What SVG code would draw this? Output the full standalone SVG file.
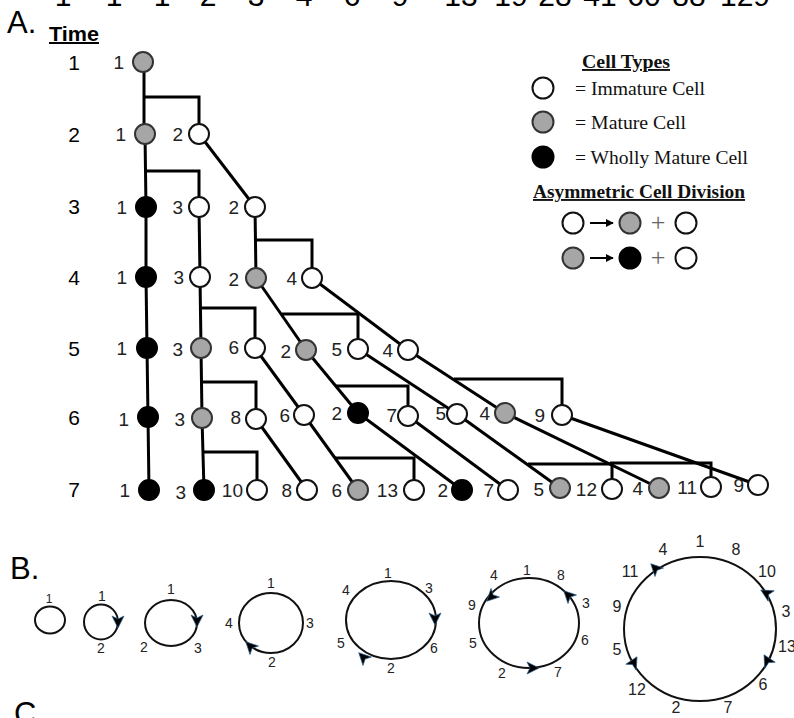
<svg xmlns="http://www.w3.org/2000/svg" width="794" height="718" viewBox="0 0 794 718">
<defs>
<style>
.lbl{font-family:"Liberation Sans",Arial,sans-serif;font-size:19px;fill:#222;text-anchor:end}
.time{font-family:"Liberation Sans",Arial,sans-serif;font-size:21px;fill:#000;text-anchor:middle}
.top{font-family:"Liberation Sans",Arial,sans-serif;font-size:30px;fill:#000;text-anchor:middle}
.big{font-family:"Liberation Sans",Arial,sans-serif;font-size:31px;fill:#000}
.w{fill:#fff;stroke:#111;stroke-width:2}
.g{fill:#a6a6a6;stroke:#333;stroke-width:2}
.b{fill:#000;stroke:#000;stroke-width:2}
.con path,.con line{stroke:#000;stroke-width:3;fill:none}
.leg{font-family:"Liberation Serif","Times New Roman",serif;font-size:19px;fill:#111}
.legh{font-family:"Liberation Serif","Times New Roman",serif;font-size:19px;font-weight:bold;fill:#111;text-decoration:underline}
.ring{fill:none;stroke:#111;stroke-width:2}
.bl{font-family:"Liberation Sans",Arial,sans-serif;font-size:14px;fill:#222;text-anchor:middle}
.bl7{font-family:"Liberation Sans",Arial,sans-serif;font-size:16px;fill:#222;text-anchor:middle}
.ah{fill:#000;stroke:#2a5d8a;stroke-width:0.7}
</style>
<path id="ah" d="M6,0 L-6,-6 L-3,0 L-6,6 Z"/>
<marker id="arr" viewBox="0 0 10 10" refX="9" refY="5" markerWidth="4" markerHeight="4" orient="auto"><path d="M0,0 L10,5 L0,10 Z" fill="#000"/></marker>
</defs>
<rect width="794" height="718" fill="#fff"/>

<g id="top-numbers">
<text class="top" x="63" y="6">1</text><text class="top" x="114" y="6">1</text><text class="top" x="162" y="6">1</text><text class="top" x="208" y="6">2</text><text class="top" x="256" y="6">3</text><text class="top" x="304" y="6">4</text><text class="top" x="352" y="6">6</text><text class="top" x="400" y="6">9</text><text class="top" x="461" y="6">13</text><text class="top" x="511" y="6">19</text><text class="top" x="555" y="6">28</text><text class="top" x="600" y="6">41</text><text class="top" x="644" y="6">60</text><text class="top" x="689" y="6">88</text><text class="top" x="745" y="6">129</text>
</g>

<text class="big" x="7" y="33">A.</text>
<text x="49" y="41" font-family="Liberation Sans, Arial, sans-serif" font-size="20" font-weight="bold" text-decoration="underline" textLength="50" lengthAdjust="spacingAndGlyphs">Time</text>

<g id="time-labels">
<text class="time" x="74" y="70">1</text>
<text class="time" x="74" y="142">2</text>
<text class="time" x="74" y="214">3</text>
<text class="time" x="74" y="285">4</text>
<text class="time" x="74" y="356">5</text>
<text class="time" x="74" y="425">6</text>
<text class="time" x="74" y="497">7</text>
</g>

<g id="connectors" class="con">
<line x1="144" y1="62" x2="144" y2="134"/><path d="M144,97 H199 V134"/>
<line x1="145" y1="134" x2="146" y2="207"/><path d="M145,171 H199 V207"/>
<line x1="199" y1="134" x2="255" y2="207"/>
<line x1="146" y1="207" x2="146" y2="277"/>
<line x1="199" y1="207" x2="200" y2="277"/>
<line x1="255" y1="207" x2="256" y2="278"/><path d="M255,240 H312 V278"/>
<line x1="146" y1="277" x2="147" y2="348"/>
<line x1="200" y1="277" x2="201" y2="348"/><path d="M200,308 H255 V348"/>
<line x1="256" y1="278" x2="306" y2="350"/><path d="M282,314 H358 V349"/>
<line x1="312" y1="278" x2="408" y2="350"/>
<line x1="147" y1="348" x2="148" y2="417"/>
<line x1="201" y1="348" x2="202" y2="418"/><path d="M201,382 H256 V419"/>
<line x1="255" y1="348" x2="304" y2="415"/>
<line x1="306" y1="350" x2="358" y2="413"/><path d="M335,386 H408 V416"/>
<line x1="358" y1="349" x2="457" y2="414"/>
<line x1="408" y1="350" x2="505" y2="413"/><path d="M454,379 H562 V415"/>
<line x1="148" y1="417" x2="149" y2="490"/>
<line x1="202" y1="418" x2="204" y2="490"/><path d="M203,452 H257 V490"/>
<line x1="256" y1="419" x2="307" y2="490"/>
<line x1="304" y1="415" x2="358" y2="490"/><path d="M335,458 H414 V490"/>
<line x1="358" y1="413" x2="462" y2="490"/>
<line x1="408" y1="416" x2="508" y2="490"/>
<line x1="457" y1="414" x2="560" y2="488"/><path d="M528,464 H612 V489"/>
<line x1="505" y1="413" x2="659" y2="488"/><path d="M610,463 H711 V487"/>
<line x1="562" y1="415" x2="758" y2="485"/>
</g>

<g id="nodes">
<g id="r1n1"><circle class="g" cx="143" cy="62" r="10"/><text class="lbl" x="124" y="69">1</text></g>
<g id="r2n1"><circle class="g" cx="145" cy="134" r="10"/><text class="lbl" x="126" y="141">1</text></g>
<g id="r2n2"><circle class="w" cx="199" cy="134" r="10"/><text class="lbl" x="183" y="141">2</text></g>
<g id="r3n1"><circle class="b" cx="146" cy="207" r="10"/><text class="lbl" x="127" y="214">1</text></g>
<g id="r3n3"><circle class="w" cx="199" cy="207" r="10"/><text class="lbl" x="183" y="214">3</text></g>
<g id="r3n2"><circle class="w" cx="255" cy="207" r="10"/><text class="lbl" x="239" y="214">2</text></g>
<g id="r4n1"><circle class="b" cx="146" cy="277" r="10"/><text class="lbl" x="127" y="284">1</text></g>
<g id="r4n3"><circle class="w" cx="200" cy="277" r="10"/><text class="lbl" x="184" y="284">3</text></g>
<g id="r4n2"><circle class="g" cx="256" cy="278" r="10"/><text class="lbl" x="239" y="286">2</text></g>
<g id="r4n4"><circle class="w" cx="312" cy="278" r="10"/><text class="lbl" x="297" y="285">4</text></g>
<g id="r5n1"><circle class="b" cx="147" cy="348" r="10"/><text class="lbl" x="127" y="355">1</text></g>
<g id="r5n3"><circle class="g" cx="201" cy="348" r="10"/><text class="lbl" x="183" y="356">3</text></g>
<g id="r5n6"><circle class="w" cx="255" cy="348" r="10"/><text class="lbl" x="239" y="354">6</text></g>
<g id="r5n2"><circle class="g" cx="306" cy="350" r="10"/><text class="lbl" x="291" y="358">2</text></g>
<g id="r5n5"><circle class="w" cx="358" cy="349" r="10"/><text class="lbl" x="342" y="356">5</text></g>
<g id="r5n4"><circle class="w" cx="408" cy="350" r="10"/><text class="lbl" x="393" y="357">4</text></g>
<g id="r6n1"><circle class="b" cx="148" cy="417" r="10"/><text class="lbl" x="129" y="426">1</text></g>
<g id="r6n3"><circle class="g" cx="202" cy="418" r="10"/><text class="lbl" x="185" y="426">3</text></g>
<g id="r6n8"><circle class="w" cx="256" cy="419" r="10"/><text class="lbl" x="241" y="424">8</text></g>
<g id="r6n6"><circle class="w" cx="304" cy="415" r="10"/><text class="lbl" x="290" y="422">6</text></g>
<g id="r6n2"><circle class="b" cx="358" cy="413" r="10"/><text class="lbl" x="342" y="420">2</text></g>
<g id="r6n7"><circle class="w" cx="408" cy="416" r="10"/><text class="lbl" x="397" y="422">7</text></g>
<g id="r6n5"><circle class="w" cx="457" cy="414" r="10"/><text class="lbl" x="446" y="420">5</text></g>
<g id="r6n4"><circle class="g" cx="505" cy="413" r="10"/><text class="lbl" x="490" y="420">4</text></g>
<g id="r6n9"><circle class="w" cx="562" cy="415" r="10"/><text class="lbl" x="545" y="422">9</text></g>
<g id="r7n1"><circle class="b" cx="149" cy="490" r="10"/><text class="lbl" x="130" y="497">1</text></g>
<g id="r7n3"><circle class="b" cx="204" cy="490" r="10"/><text class="lbl" x="186" y="499">3</text></g>
<g id="r7n10"><circle class="w" cx="257" cy="490" r="10"/><text class="lbl" x="243" y="497">10</text></g>
<g id="r7n8"><circle class="w" cx="307" cy="490" r="10"/><text class="lbl" x="292" y="497">8</text></g>
<g id="r7n6"><circle class="g" cx="358" cy="490" r="10"/><text class="lbl" x="342" y="497">6</text></g>
<g id="r7n13"><circle class="w" cx="414" cy="490" r="10"/><text class="lbl" x="398" y="497">13</text></g>
<g id="r7n2"><circle class="b" cx="462" cy="490" r="10"/><text class="lbl" x="448" y="497">2</text></g>
<g id="r7n7"><circle class="w" cx="508" cy="490" r="10"/><text class="lbl" x="494" y="497">7</text></g>
<g id="r7n5"><circle class="g" cx="560" cy="488" r="10"/><text class="lbl" x="544" y="496">5</text></g>
<g id="r7n12"><circle class="w" cx="612" cy="489" r="10"/><text class="lbl" x="597" y="496">12</text></g>
<g id="r7n4"><circle class="g" cx="659" cy="488" r="10"/><text class="lbl" x="643" y="495">4</text></g>
<g id="r7n11"><circle class="w" cx="711" cy="487" r="10"/><text class="lbl" x="697" y="494">11</text></g>
<g id="r7n9"><circle class="w" cx="758" cy="485" r="10"/><text class="lbl" x="744" y="492">9</text></g>
</g>

<g id="legend">
<text class="legh" x="582" y="68" textLength="88" lengthAdjust="spacingAndGlyphs">Cell Types</text>
<circle class="w" cx="543" cy="88" r="10.5"/>
<text class="leg" x="575" y="95" textLength="130" lengthAdjust="spacingAndGlyphs">= Immature Cell</text>
<circle class="g" cx="543" cy="122" r="10.5"/>
<text class="leg" x="575" y="129" textLength="111" lengthAdjust="spacingAndGlyphs">= Mature Cell</text>
<circle class="b" cx="543" cy="157" r="10.5"/>
<text class="leg" x="575" y="164" textLength="173" lengthAdjust="spacingAndGlyphs">= Wholly Mature Cell</text>
<text class="legh" x="533" y="198" textLength="212" lengthAdjust="spacingAndGlyphs">Asymmetric Cell Division</text>
<circle class="w" cx="573" cy="223" r="10.5"/>
<line x1="590" y1="223" x2="613" y2="223" stroke="#000" stroke-width="2" marker-end="url(#arr)"/>
<circle class="g" cx="630" cy="223" r="10.5"/>
<text x="658" y="231" font-family="Liberation Serif, serif" font-size="26" fill="#666" text-anchor="middle">+</text>
<circle class="w" cx="686" cy="223" r="10.5"/>
<circle class="g" cx="573" cy="258" r="10.5"/>
<line x1="590" y1="258" x2="613" y2="258" stroke="#000" stroke-width="2" marker-end="url(#arr)"/>
<circle class="b" cx="630" cy="258" r="10.5"/>
<text x="658" y="266" font-family="Liberation Serif, serif" font-size="26" fill="#666" text-anchor="middle">+</text>
<circle class="w" cx="686" cy="258" r="10.5"/>
</g>

<text class="big" x="10" y="579">B.</text>

<g id="ring1">
<ellipse class="ring" cx="50" cy="620" rx="15" ry="13.5"/>
<text class="bl" x="49" y="603" style="font-size:12px">1</text>
</g>
<g id="ring2">
<ellipse class="ring" cx="101" cy="622" rx="17" ry="17.5"/>
<use href="#ah" class="ah" transform="translate(118,622) rotate(90)"/>
<text class="bl" x="102" y="601">1</text>
<text class="bl" x="101" y="653">2</text>
</g>
<g id="ring3">
<ellipse class="ring" cx="171" cy="623" rx="26" ry="23"/>
<use href="#ah" class="ah" transform="translate(197,621) rotate(90)"/>
<text class="bl" x="171" y="594">1</text>
<text class="bl" x="144" y="652">2</text>
<text class="bl" x="198" y="653">3</text>
</g>
<g id="ring4">
<ellipse class="ring" cx="271" cy="623" rx="32" ry="30"/>
<use href="#ah" class="ah" transform="translate(250,646) rotate(-135)"/>
<text class="bl" x="271" y="588">1</text>
<text class="bl" x="229" y="628">4</text>
<text class="bl" x="310" y="628">3</text>
<text class="bl" x="272" y="667">2</text>
</g>
<g id="ring5">
<ellipse class="ring" cx="391" cy="620" rx="45" ry="39"/>
<use href="#ah" class="ah" transform="translate(435,619) rotate(90)"/>
<use href="#ah" class="ah" transform="translate(363,657) rotate(-135)"/>
<text class="bl" x="388" y="578">1</text>
<text class="bl" x="429" y="593">3</text>
<text class="bl" x="346" y="595">4</text>
<text class="bl" x="341" y="648">5</text>
<text class="bl" x="434" y="653">6</text>
<text class="bl" x="391" y="673">2</text>
</g>
<g id="ring6">
<ellipse class="ring" cx="529" cy="623" rx="50" ry="45"/>
<use href="#ah" class="ah" transform="translate(491,597) rotate(135)"/>
<use href="#ah" class="ah" transform="translate(568,595) rotate(-135)"/>
<use href="#ah" class="ah" transform="translate(533,668) rotate(0)"/>
<text class="bl" x="494" y="580">4</text>
<text class="bl" x="527" y="575">1</text>
<text class="bl" x="561" y="580">8</text>
<text class="bl" x="472" y="610">9</text>
<text class="bl" x="586" y="608">3</text>
<text class="bl" x="473" y="648">5</text>
<text class="bl" x="585" y="645">6</text>
<text class="bl" x="502" y="678">2</text>
<text class="bl" x="558" y="677">7</text>
</g>
<g id="ring7">
<ellipse class="ring" cx="700" cy="629" rx="76" ry="72"/>
<use href="#ah" class="ah" transform="translate(655,568) rotate(-135)"/>
<use href="#ah" class="ah" transform="translate(766,593) rotate(-150)"/>
<use href="#ah" class="ah" transform="translate(634,662) rotate(-60)"/>
<use href="#ah" class="ah" transform="translate(767,660) rotate(-120)"/>
<text class="bl7" x="663" y="555">4</text>
<text class="bl7" x="700" y="547">1</text>
<text class="bl7" x="736" y="555">8</text>
<text class="bl7" x="630" y="577">11</text>
<text class="bl7" x="767" y="577">10</text>
<text class="bl7" x="617" y="612">9</text>
<text class="bl7" x="786" y="617">3</text>
<text class="bl7" x="617" y="655">5</text>
<text class="bl7" x="787" y="652">13</text>
<text class="bl7" x="637" y="695">12</text>
<text class="bl7" x="763" y="690">6</text>
<text class="bl7" x="676" y="713">2</text>
<text class="bl7" x="728" y="713">7</text>
</g>

<text class="big" x="14" y="724">C.</text>
</svg>
